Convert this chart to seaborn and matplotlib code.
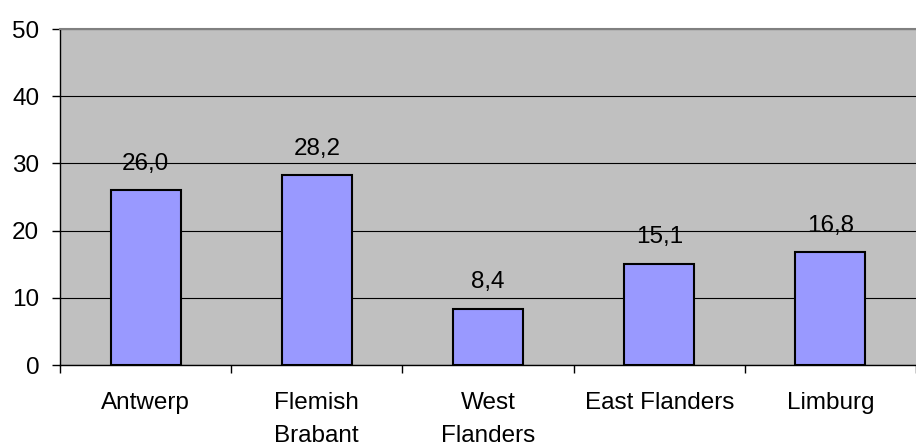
import matplotlib
matplotlib.use("Agg")
import matplotlib.pyplot as plt
import seaborn as sns
import numpy as np
import pandas as pd

regions = ["Antwerp", "Flemish\nBrabant", "West\nFlanders", "East Flanders", "Limburg"]
values = [26.0, 28.2, 8.4, 15.1, 16.8]
yticks = [0, 10, 20, 30, 40, 50]

sns.set_theme(style="white")
plt.rcParams["font.family"] = ["Liberation Sans", "DejaVu Sans"]
plt.rcParams["text.color"] = "black"
plt.rcParams["xtick.color"] = "black"
plt.rcParams["ytick.color"] = "black"

FS = 17.5

df = pd.DataFrame({"region": regions, "value": values})

W, H = 916, 445
fig = plt.figure(figsize=(W / 100, H / 100), dpi=100)
ax = fig.add_axes([60 / W, (H - 365) / H, 856 / W, 336 / H])
ax.set_facecolor("#C0C0C0")

sns.barplot(data=df, x="region", y="value", color="#9999FF", saturation=1,
            width=0.41, edgecolor="black", linewidth=1.5, ax=ax, zorder=3)

ax.set_ylim(0, 50)
ax.set_xlim(-0.5, len(regions) - 0.5)
ax.set_yticks(yticks)
ax.set_yticklabels([str(t) for t in yticks], fontsize=FS)
ax.yaxis.grid(True, color="black", linewidth=0.8, zorder=1)
ax.set_axisbelow(True)

# category labels centred, tick marks on category boundaries
ax.set_xticks(range(len(regions)))
ax.set_xticklabels(regions, fontsize=FS, linespacing=1.66)
ax.tick_params(axis="x", which="major", length=0, pad=19.5, bottom=True)
ax.set_xticks(np.arange(-0.5, len(regions), 1.0), minor=True)
ax.tick_params(axis="x", which="minor", length=6, width=1, color="black",
               direction="out", bottom=True)
ax.tick_params(axis="y", length=6, width=1, color="black", direction="out",
               pad=9, left=True, labelcolor="black")

ax.set_xlabel("")
ax.set_ylabel("")

for side in ["left", "bottom"]:
    ax.spines[side].set_color("black")
    ax.spines[side].set_linewidth(1)
ax.spines["top"].set_color("#808080")
ax.spines["top"].set_linewidth(1.5)
ax.spines["right"].set_visible(False)

for i, v in enumerate(values):
    ax.annotate(f"{v:.1f}".replace(".", ","), xy=(i, v), xytext=(0, 11),
                textcoords="offset points", ha="center", va="bottom",
                fontsize=FS, color="black")

fig.savefig("out.png", dpi=100)
